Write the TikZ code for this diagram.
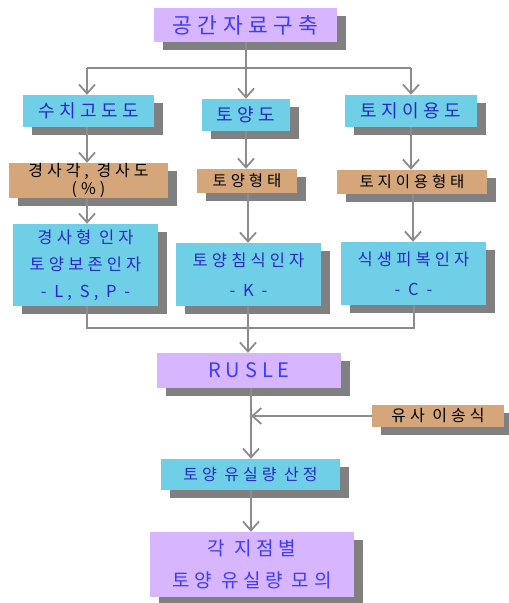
\documentclass[tikz,border=0pt]{standalone}
\usepackage{fontspec}
\newfontfamily\kr{Noto Sans CJK KR}[LetterSpace=25]
\usetikzlibrary{arrows.meta,shadows}
\definecolor{lav}{RGB}{216,182,255}
\definecolor{cyn}{RGB}{111,207,230}
\definecolor{tan}{RGB}{212,166,122}
\definecolor{shd}{RGB}{128,128,128}
\definecolor{lin}{RGB}{140,140,140}
\definecolor{tblue}{RGB}{40,40,200}
\definecolor{bblue}{RGB}{60,60,255}
\begin{document}
\begin{tikzpicture}[x=1pt,y=-1pt,
  box/.style={inner sep=0pt, align=center, text=tblue,
    general shadow={fill=shd, shadow xshift=9pt, shadow yshift=-8pt}},
  lavbox/.style={box, fill=lav, text=bblue},
  cynbox/.style={box, fill=cyn},
  tanbox/.style={box, fill=tan, text=black},
  arr/.style={draw=lin, line width=1.8pt, -{Straight Barb[length=9pt,width=16pt,line width=1.8pt]}},
  ln/.style={draw=lin, line width=1.8pt}]
\useasboundingbox (0,0) rectangle (509,603);
% nodes
\node[lavbox, minimum width=183pt, minimum height=34pt, font={\kr\fontsize{21.5}{24}\selectfont}] (A) at (245.5,25) {공간자료구축};
\node[cynbox, minimum width=131pt, minimum height=32pt, font={\kr\fontsize{18}{20}\selectfont}] (B1) at (88.5,111) {수치고도도};
\node[cynbox, minimum width=88pt, minimum height=32pt, font={\kr\fontsize{18}{20}\selectfont}] (B2) at (246,115) {토양도};
\node[cynbox, minimum width=132pt, minimum height=32pt, font={\kr\fontsize{18}{20}\selectfont}] (B3) at (411,111) {토지이용도};
\node[tanbox, minimum width=159pt, minimum height=35pt, font={\kr\fontsize{16}{14}\selectfont}] (C1) at (88.5,180.5) {경사각, 경사도\\(\%)};
\node[tanbox, minimum width=100pt, minimum height=24pt, font={\kr\fontsize{15.5}{17}\selectfont}] (C2) at (247,181) {토양형태};
\node[tanbox, minimum width=150pt, minimum height=24pt, font={\kr\fontsize{15.5}{17}\selectfont}] (C3) at (412,182) {토지이용형태};
\node[cynbox, minimum width=145pt, minimum height=82pt, font={\kr\fontsize{16.5}{27}\selectfont}] (D1) at (85.5,265) {경사형 인자\\토양보존인자\\- L, S, P -};
\node[cynbox, minimum width=145pt, minimum height=63pt, font={\kr\fontsize{16.5}{30}\selectfont}] (D2) at (248.5,274.5) {토양침식인자\\- K -};
\node[cynbox, minimum width=145pt, minimum height=63pt, font={\kr\fontsize{16.5}{30}\selectfont}] (D3) at (413.5,273.5) {식생피복인자\\- C -};
\node[lavbox, minimum width=184pt, minimum height=35pt, font={\kr\fontsize{20}{22}\selectfont}] (E) at (249,370.5) {RUSLE};
\node[tanbox, minimum width=132pt, minimum height=22pt, font={\kr\fontsize{16}{17}\selectfont}] (F) at (438,416) {유사 이송식};
\node[cynbox, minimum width=179pt, minimum height=31pt, font={\kr\fontsize{16}{17}\selectfont}] (G) at (250.5,474.5) {토양 유실량 산정};
\node[lavbox, minimum width=204pt, minimum height=65pt, font={\kr\fontsize{19}{32}\selectfont}] (H) at (252,564.5) {각 지점별\\토양 유실량 모의};
% connectors top
\coordinate (bus) at (246,68);
\coordinate (busL) at (87,68);
\coordinate (busR) at (411,68);
\draw[ln] (A.south -| bus) -- (bus);
\draw[ln] (busL) -- (busR);
\draw[arr] (busL) -- (busL |- B1.north);
\draw[arr] (bus) -- (bus |- B2.north);
\draw[arr] (busR) -- (busR |- B3.north);
\draw[arr] (busL |- B1.south) -- (busL |- C1.north);
\draw[arr] (bus |- B2.south) -- (bus |- C2.north);
\draw[arr] (busR |- B3.south) -- (busR |- C3.north);
\draw[arr] (busL |- C1.south) -- (busL |- D1.north);
\coordinate (midL) at (248,0);
\coordinate (midR) at (413,0);
\draw[arr] (midL |- C2.south) -- (midL |- D2.north);
\draw[arr] (midR |- C3.south) -- (midR |- D3.north);
% merge
\coordinate (mrg) at (248,328);
\draw[ln] (busL |- D1.south) -- (busL |- mrg) -- (414,328) -- (414,305);
\draw[arr] (midL |- D2.south) -- (midL |- E.north);
\coordinate (tr) at (251,0);
\draw[arr] (tr |- E.south) -- (tr |- G.north);
\draw[arr] (F.west) -- (tr |- F.west);
\draw[arr] (tr |- G.south) -- (tr |- H.north);
\end{tikzpicture}
\end{document}
